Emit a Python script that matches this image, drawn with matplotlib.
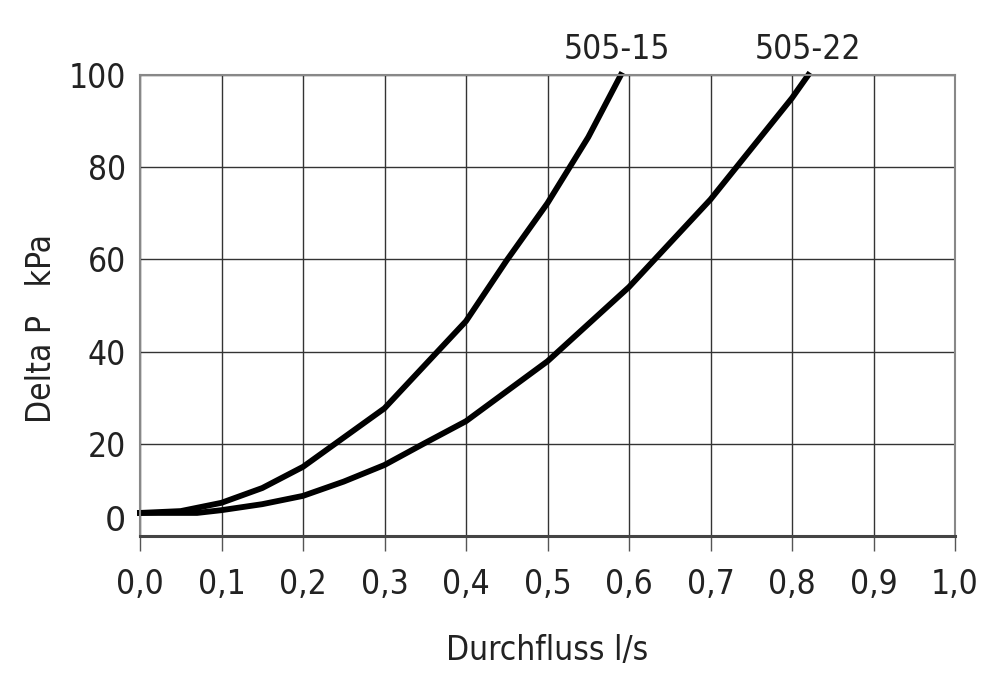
import matplotlib.pyplot as plt
import matplotlib.ticker as mticker

# Durchfluss l/s
flow_15 = [0.0, 0.05, 0.1, 0.15, 0.2, 0.3, 0.4, 0.45, 0.5, 0.55, 0.59]
dp_15 = [5.0, 5.4, 7.2, 10.4, 15.0, 27.7, 46.6, 59.8, 72.2, 86.5, 100.0]

flow_22 = [0.0, 0.07, 0.1, 0.15, 0.2, 0.25, 0.3, 0.35, 0.4, 0.5, 0.6, 0.7, 0.8, 0.82]
dp_22 = [5.0, 5.0, 5.6, 6.9, 8.7, 11.8, 15.4, 20.2, 24.9, 37.9, 54.0, 73.0, 95.0, 100.0]

series_names = ['505-15', '505-22']
x_ticks = [i / 10 for i in range(11)]
x_ticklabels = [f'{t:.1f}'.replace('.', ',') for t in x_ticks]
y_ticks = [20, 40, 60, 80, 100]

plt.rcParams['font.family'] = ['DejaVu Sans']
fs = 24

fig = plt.figure(figsize=(10, 6.84), dpi=100)
ax = fig.add_axes([0.14, 0.2164, 0.815, 0.674])

ax.plot(flow_15, dp_15, color='black', lw=4.2, solid_joinstyle='round', clip_on=False)
ax.plot(flow_22, dp_22, color='black', lw=4.2, solid_joinstyle='round', clip_on=False)

ax.set_xlim(0, 1.0)
ax.set_ylim(0, 100)

ax.set_xticks(x_ticks)
ax.set_xticklabels(x_ticklabels, fontsize=fs, fontstretch='condensed', color='#222222')
ax.set_yticks(y_ticks)
ax.set_yticklabels([str(v) for v in y_ticks], fontsize=fs, fontstretch='condensed', color='#222222')
ax.yaxis.set_minor_locator(mticker.FixedLocator([4]))
ax.yaxis.set_minor_formatter(mticker.FixedFormatter(['0']))
ax.tick_params(axis='y', which='both', length=0, pad=10, labelsize=fs, labelcolor='#222222')
ax.tick_params(axis='x', length=11, width=1, color='#555555', pad=12)

ax.grid(True, which='major', color='#333333', lw=1)
ax.set_axisbelow(True)

for side in ['left', 'top', 'right']:
    ax.spines[side].set_color('#888888')
    ax.spines[side].set_linewidth(1.5)
ax.spines['bottom'].set_color('#444444')
ax.spines['bottom'].set_linewidth(2.2)

ax.set_xlabel('Durchfluss l/s', fontsize=fs, fontstretch='condensed', color='#222222', labelpad=24)
ax.set_ylabel('Delta P   kPa', fontsize=fs, fontstretch='condensed', color='#222222', labelpad=26)
ax.yaxis.set_label_coords(-0.1, 0.45)

ax.text(0.585, 102, series_names[0], fontsize=fs, fontstretch='condensed', color='#222222',
        ha='center', va='bottom')
ax.text(0.82, 102, series_names[1], fontsize=fs, fontstretch='condensed', color='#222222',
        ha='center', va='bottom')

fig.savefig('out.png', dpi=100)
